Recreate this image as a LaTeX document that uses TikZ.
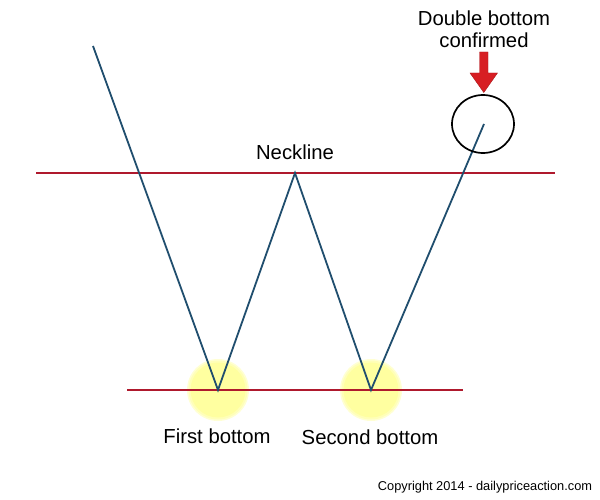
\documentclass[tikz,border=0pt]{standalone}
\usepackage{fontspec}
\setmainfont{Liberation Sans}
\definecolor{priceblue}{RGB}{32,78,110}
\definecolor{levelred}{RGB}{175,25,45}
\definecolor{arrowred}{RGB}{215,30,35}
\definecolor{glowyellow}{RGB}{255,255,160}
\begin{document}
\begin{tikzpicture}[x=1pt,y=-1pt,
  level/.style={draw=levelred,line width=1.6pt},
  price/.style={draw=priceblue,line width=1.8pt,line join=miter},
  lbl/.style={inner sep=0pt,font=\fontsize{20.3}{22}\selectfont,align=center},
  small/.style={inner sep=0pt,font=\fontsize{12.8}{14}\selectfont}]
\useasboundingbox[fill=white] (0,0) rectangle (600,500);
% glows
\foreach \cx in {218,371}{
  \fill[glowyellow!45] (\cx,390) circle (31);
  \fill[glowyellow!75] (\cx,390) circle (29.5);
  \fill[glowyellow] (\cx,390) circle (27.5);
}
% coordinates
\coordinate (nlL) at (36,173);
\coordinate (nlR) at (555,173);
\coordinate (blL) at (127,390);
\coordinate (blR) at (463,390);
\coordinate (p0) at (93,46);
\coordinate (b1) at (218,390);
\coordinate (pk) at (295,173);
\coordinate (b2) at (371,390);
\coordinate (p4) at (484,124);
% level lines
\draw[level] (nlL) -- (nlR);
\draw[level] (blL) -- (blR);
% price path
\draw[price] (p0) -- (b1) -- (pk) -- (b2) -- (p4);
% circle
\draw[black,line width=1.7pt] (483,124) ellipse (31 and 29);
% arrow
\filldraw[fill=arrowred,draw=arrowred!80!black,line width=0.4pt]
  (479.5,52) -- (488,52) -- (488,73) -- (497.5,73) -- (483.8,92.5) -- (470,73) -- (479.5,73) -- cycle;
% labels
\node[lbl] (confirm) at (484,29) {Double bottom\\confirmed};
\node[lbl] (neck) at (295,152) {Neckline};
\node[lbl] (first) at (217,436) {First bottom};
\node[lbl] (second) at (370,437) {Second bottom};
\node[small] (copy) at (485,487) {Copyright 2014 - dailypriceaction.com};
\end{tikzpicture}
\end{document}
